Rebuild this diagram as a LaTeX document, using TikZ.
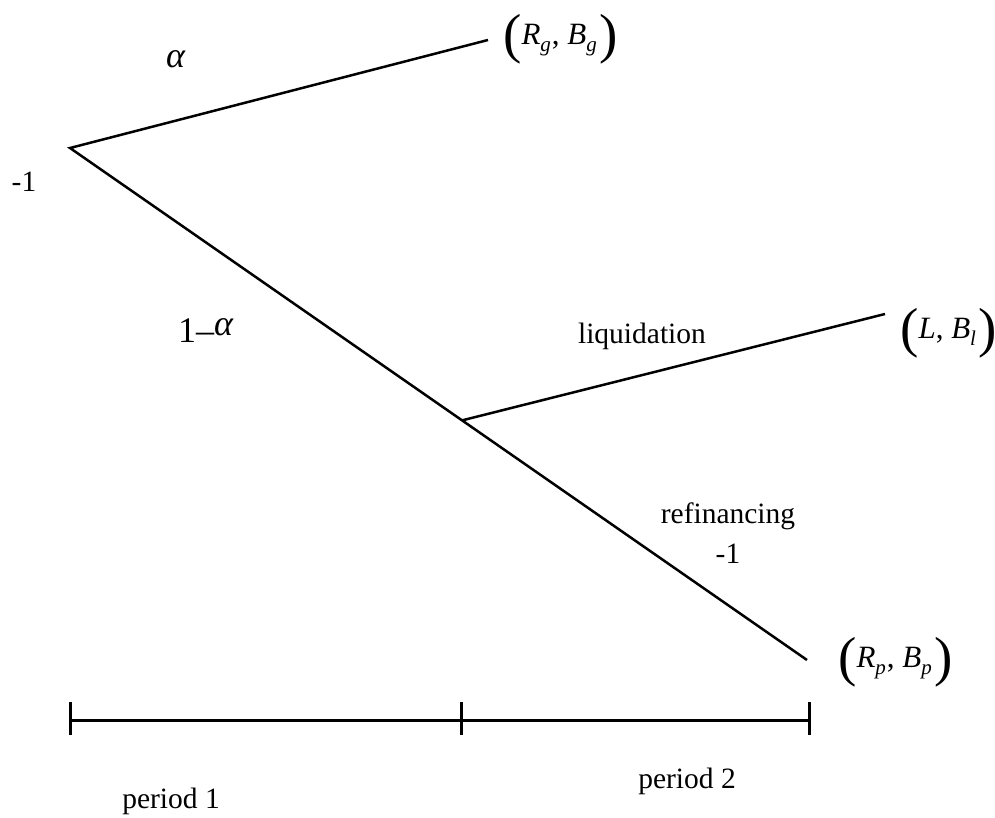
\documentclass[tikz,border=0pt]{standalone}
\usepackage{fontspec}
\setmainfont{Liberation Serif}
\usetikzlibrary{calc}
\newcommand\mylp{\raisebox{-8pt}{\fontsize{55}{55}\selectfont(}}
\newcommand\myrp{\raisebox{-8pt}{\fontsize{55}{55}\selectfont)}}
\newcommand\mysub[1]{\raisebox{-7pt}{\fontsize{21}{21}\selectfont\textit{#1}}}
\begin{document}
\begin{tikzpicture}[x=1pt,y=-1pt,
  branch/.style={line width=2.5pt},
  axis/.style={line width=3pt},
  txt/.style={font=\fontsize{29.5}{34}\selectfont, inner sep=0pt, anchor=base},
  mth/.style={font=\fontsize{31}{34}\selectfont, inner sep=0pt, anchor=base west},
  grk/.style={font=\fontsize{36}{40}\selectfont, inner sep=0pt, anchor=base west}]
\useasboundingbox (0,0) rectangle (995,818);
% tree points
\coordinate (root) at (70,148);
\coordinate (gend) at (488,40);
\coordinate (pend) at (807,660);
\coordinate (mid) at ($(root)!0.532!(pend)$);
\coordinate (lend) at (885,314);
\draw[branch] (gend) -- (root) -- (pend);
\draw[branch] (mid) -- (lend);
% time axis
\coordinate (t0) at (70,720);
\coordinate (t1) at (461,720);
\coordinate (t2) at (809,720);
\draw[axis] (t0) -- (t1) -- (t2);
\foreach \t in {t0,t1,t2}
  \draw[axis] ([yshift=-15pt]\t) -- ([yshift=18pt]\t);
% labels
\node[txt] (m1) at (24,192) {-1};
\node[grk] (al) at (166,68) {\textit{α}};
\node[grk] (oma) at (178,342) {1–\raisebox{7pt}{\textit{α}}};
\node[txt] (liq) at (642,343) {liquidation};
\node[txt] (ref) at (728,523) {refinancing};
\node[txt] (m2) at (728,563) {-1};
\node[txt] (p1) at (171,808) {period 1};
\node[txt] (p2) at (687,788) {period 2};
% outcomes
\node[mth] (og) at (503,45) {\mylp\textit{R}\mysub{g}\kern1pt, \textit{B}\mysub{g}\kern3pt\myrp};
\node[mth] (ol) at (900,338) {\mylp\textit{L}, \textit{B}\mysub{l}\kern2pt\myrp};
\node[mth] (op) at (838,667) {\mylp\textit{R}\mysub{p}\kern1pt, \textit{B}\mysub{p}\kern3pt\myrp};
\end{tikzpicture}
\end{document}
